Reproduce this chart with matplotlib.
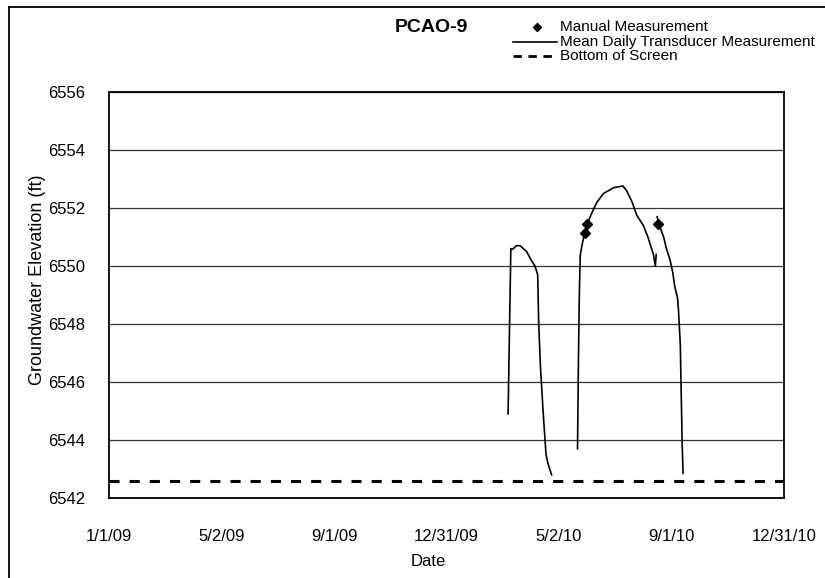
import matplotlib.pyplot as plt
import matplotlib.dates as mdates
import numpy as np
from matplotlib.lines import Line2D
from datetime import datetime

plt.rcParams['font.family'] = ['Liberation Sans', 'DejaVu Sans']

# mean daily transducer record, three separate runs
seg1Dates = ['2010-03-08', '2010-03-11', '2010-03-13', '2010-03-17', '2010-03-21', '2010-03-28',
             '2010-04-02', '2010-04-06', '2010-04-09', '2010-04-10', '2010-04-12', '2010-04-15',
             '2010-04-18', '2010-04-20', '2010-04-24']
seg1Elev = [6544.9, 6550.6, 6550.58, 6550.7, 6550.7, 6550.5,
            6550.2, 6550.0, 6549.7, 6548.1, 6546.5, 6544.9,
            6543.5, 6543.2, 6542.8]

seg2Dates = ['2010-05-22', '2010-05-23', '2010-05-24', '2010-05-25', '2010-05-28', '2010-06-01',
             '2010-06-06', '2010-06-12', '2010-06-19', '2010-06-30', '2010-07-10', '2010-07-14',
             '2010-07-20', '2010-07-25', '2010-08-01', '2010-08-06', '2010-08-12', '2010-08-14',
             '2010-08-15']
seg2Elev = [6543.7, 6546.8, 6549.1, 6550.4, 6550.9, 6551.4,
            6551.8, 6552.2, 6552.5, 6552.7, 6552.76, 6552.6,
            6552.2, 6551.75, 6551.4, 6551.0, 6550.4, 6550.0,
            6550.4]

seg3Dates = ['2010-08-16', '2010-08-19', '2010-08-23', '2010-08-26', '2010-08-30', '2010-09-02',
             '2010-09-04', '2010-09-07', '2010-09-08', '2010-09-10', '2010-09-11', '2010-09-12',
             '2010-09-13']
seg3Elev = [6551.7, 6551.35, 6551.0, 6550.6, 6550.2, 6549.75,
            6549.3, 6548.9, 6548.5, 6547.3, 6545.6, 6543.9,
            6542.85]

manualDates = ['2010-05-30', '2010-06-01', '2010-08-17']
manualElev = [6551.15, 6551.45, 6551.45]

screenDates = ['2009-01-01', '2010-12-31']
screenElev = [6542.6, 6542.6]

xTickLabels = ['1/1/09', '5/2/09', '9/1/09', '12/31/09', '5/2/10', '9/1/10', '12/31/10']
yTicks = [6542, 6544, 6546, 6548, 6550, 6552, 6554, 6556]


def ToNum(dates):
    return mdates.date2num([datetime.strptime(d, '%Y-%m-%d') for d in dates])


def SetupAxes():
    fig = plt.figure(figsize=(8.25, 5.78), dpi=100)
    fig.set_facecolor('white')
    ax = fig.add_axes([109/825, 1 - 498/578, 675/825, 406/578])

    xMin = ToNum(['2009-01-01'])[0]
    xMax = ToNum(['2010-12-31'])[0]
    ax.set_xlim(xMin, xMax)
    ax.set_ylim(yTicks[0], yTicks[-1])

    xTicks = np.linspace(xMin, xMax, len(xTickLabels))
    ax.set_xticks(xTicks)
    ax.set_xticklabels(xTickLabels)
    ax.set_yticks(yTicks)
    ax.tick_params(axis='both', length=0, labelsize=12, colors='black')
    ax.tick_params(axis='x', pad=22)
    ax.tick_params(axis='y', pad=17)

    ax.grid(axis='y', color='#333333', linewidth=0.9, zorder=0)
    for s in ax.spines.values():
        s.set_color('black')
        s.set_linewidth(1.3)

    # frame around the page
    fig.add_artist(Line2D([9/825, 1.0], [1 - 7/578, 1 - 7/578], color='black', linewidth=1.3,
                          transform=fig.transFigure))
    fig.add_artist(Line2D([9/825, 9/825], [0.0, 1 - 7/578], color='black', linewidth=1.3,
                          transform=fig.transFigure))
    return fig, ax


def DrawLegend(fig):
    tf = fig.transFigure
    rows = [27, 42, 56]
    labels = ['Manual Measurement', 'Mean Daily Transducer Measurement', 'Bottom of Screen']
    fy = [1 - r/578 for r in rows]

    fig.add_artist(Line2D([537/825], [fy[0]], marker='D', markersize=4.5, color='black',
                          linestyle='none', transform=tf))
    fig.add_artist(Line2D([513/825, 557/825], [fy[1], fy[1]], color='black', linewidth=1.2,
                          transform=tf))
    fig.add_artist(Line2D([513/825, 555/825], [fy[2], fy[2]], color='black', linewidth=2.0,
                          linestyle=(0, (3, 2.4)), transform=tf))
    for y, lab in zip(fy, labels):
        fig.text(560/825, y, lab, fontsize=11, ha='left', va='center')

    fig.text(431/825, 1 - 28/578, 'PCAO-9', fontsize=14, fontweight='bold',
             ha='center', va='center')


def GraphWell():
    fig, ax = SetupAxes()

    for d, e in [(seg1Dates, seg1Elev), (seg2Dates, seg2Elev), (seg3Dates, seg3Elev)]:
        ax.plot(ToNum(d), e, color='black', linewidth=1.2, zorder=3)

    ax.plot(ToNum(screenDates), screenElev, color='black', linewidth=2.2,
            linestyle=(0, (3.3, 3.3)), zorder=3)
    ax.plot(ToNum(manualDates), manualElev, marker='D', markersize=5.5, color='black',
            linestyle='none', zorder=4)

    fig.text(428/825, 1 - 561/578, 'Date', fontsize=12, ha='center', va='center')
    fig.text(38/825, 1 - 280/578, 'Groundwater Elevation (ft)', fontsize=13,
             rotation=90, ha='center', va='center')

    DrawLegend(fig)
    fig.savefig('out.png', dpi=100)


if __name__ == "__main__":
    GraphWell()
